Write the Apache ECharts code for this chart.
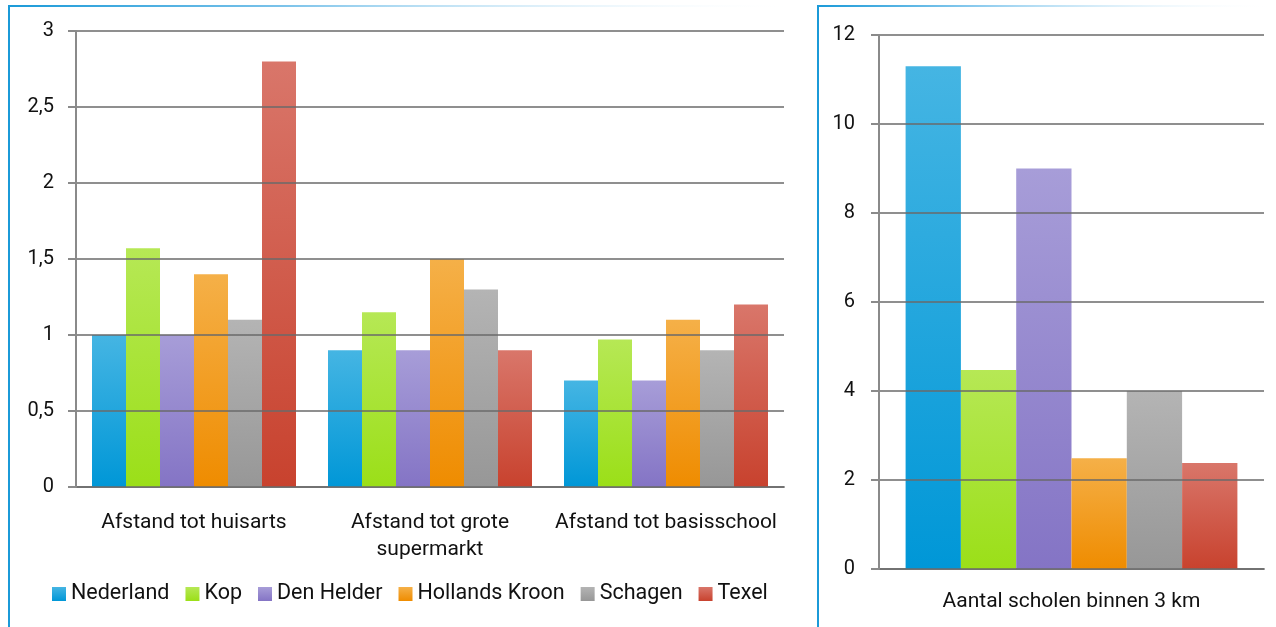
<!DOCTYPE html>
<html><head><meta charset="utf-8">
<script src="https://cdn.jsdelivr.net/npm/echarts@6/dist/echarts.min.js"></script>
<style>html,body{margin:0;padding:0;background:#fff}#c{width:1276px;height:627px}</style>
</head><body><div id="c"></div>
<script>
const seriesNames = ['Nederland','Kop','Den Helder','Hollands Kroon','Schagen','Texel'];
const leftCategories = ['Afstand tot huisarts','Afstand tot grote\nsupermarkt','Afstand tot basisschool'];
const rightCategories = ['Aantal scholen binnen 3 km'];
// values per series across left categories
const nederlandLeft = [1.0, 0.9, 0.7];
const kopLeft = [1.57, 1.15, 0.97];
const denHelderLeft = [1.0, 0.9, 0.7];
const hollandsKroonLeft = [1.4, 1.5, 1.1];
const schagenLeft = [1.1, 1.3, 0.9];
const texelLeft = [2.8, 0.9, 1.2];
// right chart values (in series order)
const scholenRight = [11.3, 4.47, 9.0, 2.49, 4.0, 2.38];
const leftTicks = {min: 0, max: 3, interval: 0.5};
const rightTicks = {min: 0, max: 12, interval: 2};

const leftData = [nederlandLeft, kopLeft, denHelderLeft, hollandsKroonLeft, schagenLeft, texelLeft];
const colorPairs = [
  ['#45b5e3','#0097d7'],
  ['#b6e855','#9bdf18'],
  ['#a79dd8','#8474c5'],
  ['#f5b048','#ef8c00'],
  ['#b4b4b4','#979797'],
  ['#d9766a','#c8422e']
];
function grad(i){
  return new echarts.graphic.LinearGradient(0,0,0,1,[{offset:0,color:colorPairs[i][0]},{offset:1,color:colorPairs[i][1]}]);
}
const FONT = 'Roboto';
const gridColor = 'rgba(105,105,105,0.75)';
const axisCol = '#8a8a8a';

const series = [];
seriesNames.forEach((n,i)=>{
  series.push({name:n,type:'bar',xAxisIndex:0,yAxisIndex:0,data:leftData[i],barWidth:34,barGap:'0%',
    itemStyle:{color:grad(i)},emphasis:{disabled:true}, z:2});
});
seriesNames.forEach((n,i)=>{
  series.push({name:n,type:'bar',xAxisIndex:1,yAxisIndex:1,data:[scholenRight[i]],barWidth:55.3,barGap:'0%',
    itemStyle:{color:grad(i)},emphasis:{disabled:true}, z:2});
});

const chart = echarts.init(document.getElementById('c'));
const yLabel = {color:'#111',fontFamily:FONT,fontSize:20,margin:22,formatter:v=>String(v).replace('.',',')};
chart.setOption({
  animation:false,
  backgroundColor:'#fff',
  color: colorPairs.map(p=>p[1]),
  legend:{data:seriesNames.map((n,i)=>({name:n,itemStyle:{color:grad(i)}})),left:47,top:578,itemWidth:14,itemHeight:14,itemGap:16,
    icon:'rect',textStyle:{color:'#111',fontFamily:FONT,fontSize:21.5,padding:[0,0,0,0]}},
  grid:[
    {left:76,top:31,width:708,height:456},
    {left:879,top:35,width:385,height:534}
  ],
  xAxis:[
    {type:'category',gridIndex:0,data:leftCategories,axisLine:{lineStyle:{color:axisCol,width:2}},
      axisTick:{length:7,lineStyle:{color:axisCol,width:2}},
      axisLabel:{color:'#111',fontFamily:FONT,fontSize:21,margin:22,lineHeight:27,interval:0}},
    {type:'category',gridIndex:1,data:rightCategories,axisLine:{lineStyle:{color:axisCol,width:2}},
      axisTick:{length:7,lineStyle:{color:axisCol,width:2}},
      axisLabel:{color:'#111',fontFamily:FONT,fontSize:21,margin:22}}
  ],
  yAxis:[
    Object.assign({type:'value',gridIndex:0,z:5,axisLine:{show:true,lineStyle:{color:axisCol,width:2}},
      axisTick:{show:true,length:8,lineStyle:{color:axisCol,width:2}},
      splitLine:{lineStyle:{color:gridColor,width:2}},axisLabel:yLabel}, leftTicks),
    Object.assign({type:'value',gridIndex:1,z:5,axisLine:{show:true,lineStyle:{color:axisCol,width:2}},
      axisTick:{show:true,length:8,lineStyle:{color:axisCol,width:2}},
      splitLine:{lineStyle:{color:gridColor,width:2}},axisLabel:Object.assign({},yLabel,{margin:24})}, rightTicks)
  ],
  graphic:[
    {type:'rect',shape:{x:8,y:5,width:2,height:622},style:{fill:'#1b9ad8'},silent:true},
    {type:'rect',shape:{x:8,y:5,width:790,height:2},style:{fill:new echarts.graphic.LinearGradient(0,0,1,0,[{offset:0,color:'#1b9ad8'},{offset:0.35,color:'#7cc3ea'},{offset:1,color:'rgba(255,255,255,0)'}])},silent:true},
    {type:'rect',shape:{x:817,y:5,width:2,height:622},style:{fill:'#1b9ad8'},silent:true},
    {type:'rect',shape:{x:817,y:5,width:459,height:2},style:{fill:new echarts.graphic.LinearGradient(0,0,1,0,[{offset:0,color:'#1b9ad8'},{offset:0.35,color:'#8ccbee'},{offset:1,color:'rgba(255,255,255,0)'}])},silent:true}
  ],
  series:series
});
</script></body></html>
